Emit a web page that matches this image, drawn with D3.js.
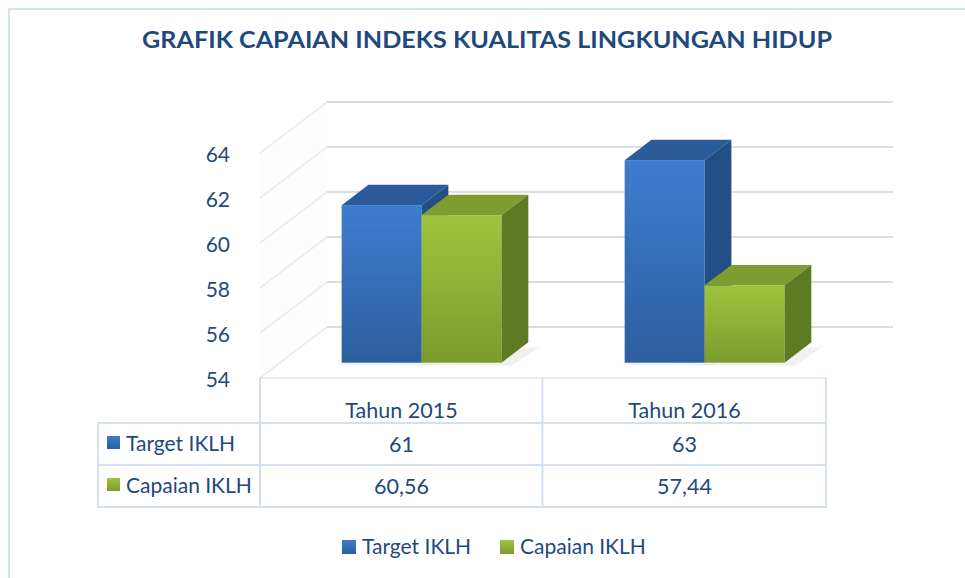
<!DOCTYPE html>
<html>
<head>
<meta charset="utf-8">
<script src="https://cdn.jsdelivr.net/npm/d3@7"></script>
<style>
  body { margin: 0; background: #fff; }
  svg { display: block; font-family: Lato, "Open Sans", sans-serif; }
</style>
</head>
<body>
<div id="chart"></div>
<script>
const years = ["Tahun 2015", "Tahun 2016"];
const seriesNames = ["Target IKLH", "Capaian IKLH"];
const target = [61, 63];
const capaian = [60.56, 57.44];
const yTicks = [54, 56, 58, 60, 62, 64];

const width = 965, height = 578;
const textColor = "#1F497D";
const gridColor = "#dcdcdc";
const tableColor = "#d4e0f0";

// 3d depth of the plot box (back wall shift) and slab occupied by bars
const depthX = 67, depthY = -51;
const t1 = 0.3, t2 = 0.7;

const colors = [
  { front: ["#3d7dcf", "#2d5e9f"], top: "#2b5b9b", side: "#234e86" },
  { front: ["#a0c43e", "#7c9b2d"], top: "#7e9c30", side: "#5e7b23" }
];

const svg = d3.select("#chart").append("svg")
  .attr("width", width)
  .attr("height", height);

const defs = svg.append("defs");
colors.forEach((c, i) => {
  const g = defs.append("linearGradient")
    .attr("id", "front" + i)
    .attr("x1", 0).attr("y1", 0).attr("x2", 0).attr("y2", 1);
  g.append("stop").attr("offset", "0%").attr("stop-color", c.front[0]);
  g.append("stop").attr("offset", "100%").attr("stop-color", c.front[1]);
});

// chart border
svg.append("rect")
  .attr("x", 9).attr("y", 9)
  .attr("width", 1000).attr("height", 600)
  .attr("fill", "none")
  .attr("stroke", "#d6e3f3")
  .attr("stroke-width", 2);

svg.append("text")
  .attr("x", 487).attr("y", 48)
  .attr("text-anchor", "middle")
  .attr("font-size", 23)
  .attr("font-weight", "bold")
  .attr("fill", textColor)
  .attr("textLength", 690)
  .attr("lengthAdjust", "spacingAndGlyphs")
  .text("GRAFIK CAPAIAN INDEKS KUALITAS LINGKUNGAN HIDUP");

const x = d3.scaleBand()
  .domain(years)
  .range([260, 826]);

const xs = d3.scaleBand()
  .domain(seriesNames)
  .range([0, x.bandwidth()])
  .paddingOuter(0.77);

const y = d3.scaleLinear()
  .domain([54, 64])
  .range([378, 153]);

// left wall
svg.append("path")
  .attr("d", `M260,${y(54)}L260,${y(64)}L${260 + depthX},${y(64) + depthY}L${260 + depthX},${y(54) + depthY}Z`)
  .attr("fill", "#fdfdfd");

// back wall gridlines
svg.selectAll(".grid-back")
  .data(yTicks)
  .enter()
  .append("line")
  .attr("class", "grid-back")
  .attr("x1", 260 + depthX).attr("x2", 826 + depthX)
  .attr("y1", d => y(d) + depthY).attr("y2", d => y(d) + depthY)
  .attr("stroke", gridColor)
  .attr("stroke-width", 2);

// side wall gridlines
svg.selectAll(".grid-side")
  .data(yTicks)
  .enter()
  .append("line")
  .attr("class", "grid-side")
  .attr("x1", 260).attr("x2", 260 + depthX)
  .attr("y1", d => y(d)).attr("y2", d => y(d) + depthY)
  .attr("stroke", "#e8e8e8")
  .attr("stroke-width", 1.5);

svg.selectAll(".ytick")
  .data(yTicks)
  .enter()
  .append("text")
  .attr("class", "ytick")
  .attr("x", 230)
  .attr("y", d => y(d) + 2)
  .attr("dy", "0.35em")
  .attr("text-anchor", "end")
  .attr("font-size", 21)
  .attr("fill", textColor)
  .text(d => d);

// bars
const bars = [];
years.forEach((yr, i) => {
  bars.push({ year: yr, s: 0, v: target[i] });
  bars.push({ year: yr, s: 1, v: capaian[i] });
});

const ox1 = depthX * t1, oy1 = depthY * t1;
const ox2 = depthX * t2, oy2 = depthY * t2;

const barG = svg.selectAll(".bar")
  .data(bars)
  .enter()
  .append("g")
  .attr("class", "bar");

// faint shadow on floor
barG.append("path")
  .attr("d", d => {
    const a = x(d.year) + xs(seriesNames[d.s]), b = a + xs.bandwidth();
    const yb = y(54);
    return `M${a + ox1 - 6},${yb + oy1 + 2}L${b + ox2 + 12},${yb + oy2 + 4}L${b + ox1 + 10},${yb + oy1 + 3}Z`;
  })
  .attr("fill", "#e8e8e8")
  .attr("opacity", 0.6);

barG.append("rect")
  .attr("x", d => x(d.year) + xs(seriesNames[d.s]) + ox1)
  .attr("y", d => y(d.v) + oy1)
  .attr("width", xs.bandwidth())
  .attr("height", d => y(54) - y(d.v))
  .attr("fill", d => `url(#front${d.s})`);

barG.append("path")
  .attr("d", d => {
    const a = x(d.year) + xs(seriesNames[d.s]), b = a + xs.bandwidth(), yv = y(d.v);
    return `M${a + ox1},${yv + oy1}L${b + ox1},${yv + oy1}L${b + ox2},${yv + oy2}L${a + ox2},${yv + oy2}Z`;
  })
  .attr("fill", d => colors[d.s].top);

barG.append("path")
  .attr("d", d => {
    const b = x(d.year) + xs(seriesNames[d.s]) + xs.bandwidth(), yv = y(d.v), yb = y(54);
    return `M${b + ox1},${yv + oy1}L${b + ox2},${yv + oy2}L${b + ox2},${yb + oy2}L${b + ox1},${yb + oy1}Z`;
  })
  .attr("fill", d => colors[d.s].side);

// data table
const fmt = d3.formatLocale({ decimal: ",", thousands: ".", grouping: [3], currency: ["", ""] }).format(".2~f");
const rowTop = [423, 465];
const rowH = 42;
const tbl = svg.append("g")
  .attr("fill", "none")
  .attr("stroke", tableColor)
  .attr("stroke-width", 2);

tbl.append("line").attr("x1", 260).attr("x2", 826).attr("y1", 378).attr("y2", 378).attr("stroke", "#e3ebf6");
tbl.append("rect").attr("x", 98).attr("y", 423).attr("width", 728).attr("height", 84);
tbl.append("line").attr("x1", 98).attr("x2", 826).attr("y1", 465).attr("y2", 465);
[260, 542.5, 826].forEach(v => {
  tbl.append("line").attr("x1", v).attr("x2", v).attr("y1", 378).attr("y2", 507);
});

svg.selectAll(".thead")
  .data(years)
  .enter()
  .append("text")
  .attr("class", "thead")
  .attr("x", d => x(d) + x.bandwidth() / 2)
  .attr("y", 418)
  .attr("text-anchor", "middle")
  .attr("font-size", 21.5)
  .attr("fill", textColor)
  .text(d => d);

const tableRows = [target, capaian];
tableRows.forEach((vals, r) => {
  const ty = rowTop[r] + rowH / 2;
  svg.append("rect")
    .attr("x", 107).attr("y", ty - 8)
    .attr("width", 13).attr("height", 13)
    .attr("fill", `url(#front${r})`);
  svg.append("text")
    .attr("x", 126).attr("y", ty + 7)
    .attr("font-size", 21)
    .attr("fill", textColor)
    .text(seriesNames[r]);
  svg.selectAll(".cell" + r)
    .data(vals)
    .enter()
    .append("text")
    .attr("x", (d, i) => x(years[i]) + x.bandwidth() / 2)
    .attr("y", ty + 8)
    .attr("text-anchor", "middle")
    .attr("font-size", 21.5)
    .attr("fill", textColor)
    .text(d => fmt(d));
});

// legend
const legendX = [342, 500];
const leg = svg.selectAll(".legend")
  .data(seriesNames)
  .enter()
  .append("g")
  .attr("class", "legend")
  .attr("transform", (d, i) => `translate(${legendX[i]},540)`);

leg.append("rect")
  .attr("width", 14).attr("height", 14)
  .attr("fill", (d, i) => `url(#front${i})`);

leg.append("text")
  .attr("x", 20).attr("y", 14)
  .attr("font-size", 21)
  .attr("fill", textColor)
  .text(d => d);
</script>
</body>
</html>
